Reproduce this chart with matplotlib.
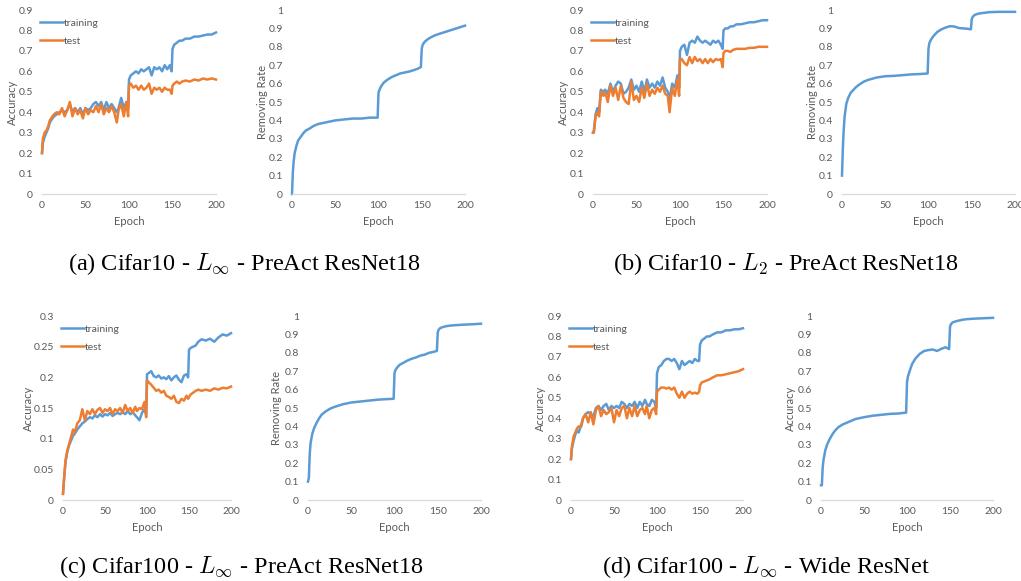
import matplotlib
matplotlib.use('Agg')
import matplotlib.pyplot as plt

plt.rcParams['font.family'] = 'Lato'
plt.rcParams['mathtext.fontset'] = 'cm'

BLUE = '#5B9BD5'
ORANGE = '#ED7D31'
GREY = '#595959'

# epochs used for the accuracy curves (shared by every accuracy panel)
acc_ep = [0, 1, 3, 5, 7, 9, 12, 14, 17, 20, 23, 26, 29, 32, 35, 38, 41, 44, 47, 50,
          53, 56, 59, 62, 65, 68, 71, 74, 77, 80, 83, 86, 88, 91, 94, 97, 99,
          100, 102, 105, 108, 111, 114, 117, 120, 123, 126, 129, 132, 135, 138, 141, 144, 147, 149,
          150, 152, 155, 158, 161, 165, 170, 175, 180, 185, 190, 195, 200]

# epochs used for the removing-rate curves
rem_ep = [0, 1, 2, 3, 5, 7, 10, 13, 16, 20, 25, 30, 40, 50, 60, 70, 80, 90, 99,
          100, 101, 103, 106, 110, 115, 120, 125, 130, 135, 140, 145, 149,
          150, 151, 153, 156, 160, 165, 170, 180, 190, 200]

# (a) Cifar10 - Linf - PreAct ResNet18
a_train = [0.20, 0.25, 0.28, 0.30, 0.32, 0.35, 0.37, 0.38, 0.39, 0.40, 0.41, 0.40, 0.41, 0.44, 0.40, 0.42, 0.40, 0.42, 0.39, 0.42,
           0.41, 0.42, 0.44, 0.45, 0.43, 0.45, 0.41, 0.45, 0.42, 0.44, 0.42, 0.40, 0.42, 0.47, 0.42, 0.45, 0.42,
           0.56, 0.58, 0.59, 0.60, 0.59, 0.61, 0.60, 0.61, 0.62, 0.58, 0.62, 0.61, 0.62, 0.60, 0.63, 0.61, 0.63, 0.60,
           0.71, 0.73, 0.74, 0.75, 0.75, 0.76, 0.76, 0.77, 0.77, 0.775, 0.78, 0.78, 0.79]
a_test = [0.20, 0.27, 0.30, 0.31, 0.33, 0.36, 0.38, 0.39, 0.40, 0.39, 0.42, 0.38, 0.41, 0.45, 0.38, 0.42, 0.39, 0.41, 0.37, 0.42,
          0.39, 0.41, 0.40, 0.43, 0.40, 0.44, 0.39, 0.42, 0.40, 0.43, 0.40, 0.35, 0.41, 0.44, 0.38, 0.45, 0.38,
          0.53, 0.54, 0.52, 0.53, 0.51, 0.53, 0.51, 0.52, 0.54, 0.49, 0.52, 0.51, 0.52, 0.50, 0.52, 0.51, 0.51, 0.49,
          0.53, 0.54, 0.55, 0.54, 0.55, 0.555, 0.55, 0.56, 0.555, 0.565, 0.56, 0.565, 0.56]
a_rem = [0.00, 0.12, 0.18, 0.22, 0.26, 0.29, 0.31, 0.33, 0.345, 0.355, 0.37, 0.38, 0.39, 0.40, 0.405, 0.41, 0.41, 0.415, 0.415,
         0.55, 0.565, 0.585, 0.605, 0.62, 0.635, 0.645, 0.655, 0.66, 0.665, 0.672, 0.68, 0.69,
         0.79, 0.81, 0.825, 0.838, 0.85, 0.862, 0.87, 0.885, 0.90, 0.915]

# (b) Cifar10 - L2 - PreAct ResNet18
b_train = [0.30, 0.31, 0.39, 0.42, 0.40, 0.51, 0.50, 0.51, 0.49, 0.54, 0.50, 0.53, 0.55, 0.54, 0.49, 0.50, 0.52, 0.56, 0.51, 0.53,
           0.50, 0.55, 0.50, 0.56, 0.52, 0.54, 0.52, 0.55, 0.53, 0.57, 0.52, 0.50, 0.46, 0.54, 0.52, 0.58, 0.52,
           0.70, 0.72, 0.73, 0.68, 0.74, 0.75, 0.74, 0.77, 0.75, 0.74, 0.75, 0.74, 0.73, 0.75, 0.74, 0.75, 0.73, 0.71,
           0.80, 0.81, 0.81, 0.82, 0.82, 0.83, 0.83, 0.835, 0.84, 0.84, 0.845, 0.85, 0.85]
b_test = [0.30, 0.30, 0.38, 0.40, 0.38, 0.50, 0.48, 0.50, 0.45, 0.53, 0.48, 0.52, 0.46, 0.53, 0.47, 0.45, 0.44, 0.55, 0.46, 0.48,
          0.45, 0.52, 0.47, 0.54, 0.48, 0.51, 0.49, 0.52, 0.50, 0.53, 0.49, 0.48, 0.40, 0.52, 0.48, 0.56, 0.48,
          0.66, 0.66, 0.64, 0.63, 0.67, 0.64, 0.67, 0.65, 0.66, 0.64, 0.66, 0.64, 0.66, 0.645, 0.66, 0.655, 0.66, 0.62,
          0.69, 0.70, 0.70, 0.695, 0.705, 0.71, 0.71, 0.71, 0.715, 0.715, 0.72, 0.72, 0.72]
b_rem = [0.10, 0.25, 0.35, 0.42, 0.49, 0.52, 0.55, 0.565, 0.58, 0.595, 0.61, 0.62, 0.633, 0.64, 0.642, 0.646, 0.65, 0.652, 0.655,
         0.79, 0.82, 0.84, 0.86, 0.88, 0.895, 0.905, 0.912, 0.91, 0.902, 0.90, 0.898, 0.895,
         0.95, 0.962, 0.972, 0.978, 0.982, 0.985, 0.988, 0.99, 0.99, 0.99]

# (c) Cifar100 - Linf - PreAct ResNet18
c_train = [0.010, 0.030, 0.062, 0.078, 0.088, 0.095, 0.105, 0.108, 0.115, 0.120, 0.125, 0.128, 0.132, 0.135, 0.133, 0.138, 0.135, 0.140, 0.136, 0.140,
           0.138, 0.142, 0.137, 0.140, 0.142, 0.140, 0.143, 0.140, 0.145, 0.140, 0.143, 0.138, 0.135, 0.130, 0.142, 0.148, 0.140,
           0.205, 0.207, 0.210, 0.202, 0.200, 0.203, 0.198, 0.200, 0.197, 0.202, 0.195, 0.200, 0.203, 0.196, 0.192, 0.203, 0.205, 0.200,
           0.245, 0.248, 0.250, 0.252, 0.258, 0.262, 0.260, 0.263, 0.258, 0.265, 0.270, 0.268, 0.272]
c_test = [0.010, 0.030, 0.065, 0.080, 0.090, 0.100, 0.115, 0.110, 0.125, 0.130, 0.148, 0.130, 0.145, 0.140, 0.148, 0.140, 0.147, 0.150, 0.142, 0.148,
          0.145, 0.150, 0.140, 0.148, 0.145, 0.150, 0.142, 0.155, 0.145, 0.150, 0.142, 0.152, 0.145, 0.150, 0.148, 0.160, 0.135,
          0.195, 0.192, 0.188, 0.183, 0.178, 0.180, 0.175, 0.178, 0.170, 0.168, 0.165, 0.170, 0.160, 0.158, 0.165, 0.162, 0.170, 0.165,
          0.168, 0.172, 0.175, 0.178, 0.180, 0.178, 0.180, 0.178, 0.182, 0.180, 0.183, 0.182, 0.185]
c_rem = [0.10, 0.12, 0.25, 0.31, 0.36, 0.39, 0.42, 0.445, 0.465, 0.48, 0.495, 0.505, 0.52, 0.53, 0.535, 0.54, 0.545, 0.548, 0.55,
         0.69, 0.705, 0.72, 0.735, 0.745, 0.758, 0.768, 0.775, 0.785, 0.79, 0.80, 0.805, 0.81,
         0.91, 0.925, 0.935, 0.94, 0.945, 0.948, 0.95, 0.953, 0.955, 0.958]

# (d) Cifar100 - Linf - Wide ResNet
d_train = [0.20, 0.25, 0.29, 0.32, 0.34, 0.33, 0.37, 0.40, 0.42, 0.43, 0.42, 0.41, 0.45, 0.46, 0.44, 0.46, 0.47, 0.44, 0.46, 0.45,
           0.46, 0.45, 0.48, 0.47, 0.45, 0.47, 0.46, 0.48, 0.45, 0.48, 0.46, 0.49, 0.47, 0.46, 0.49, 0.48, 0.45,
           0.62, 0.65, 0.66, 0.68, 0.69, 0.69, 0.68, 0.69, 0.67, 0.64, 0.68, 0.66, 0.67, 0.68, 0.67, 0.69, 0.68, 0.68,
           0.76, 0.78, 0.79, 0.80, 0.80, 0.81, 0.82, 0.82, 0.83, 0.83, 0.835, 0.835, 0.84]
d_test = [0.20, 0.26, 0.31, 0.33, 0.35, 0.36, 0.36, 0.40, 0.42, 0.38, 0.43, 0.37, 0.44, 0.46, 0.41, 0.44, 0.42, 0.43, 0.45, 0.38,
          0.44, 0.41, 0.45, 0.46, 0.40, 0.45, 0.41, 0.46, 0.41, 0.44, 0.45, 0.42, 0.46, 0.40, 0.44, 0.45, 0.42,
          0.53, 0.54, 0.55, 0.55, 0.545, 0.55, 0.54, 0.55, 0.52, 0.50, 0.53, 0.50, 0.52, 0.53, 0.52, 0.525, 0.52, 0.53,
          0.56, 0.575, 0.58, 0.585, 0.59, 0.60, 0.61, 0.61, 0.615, 0.62, 0.625, 0.63, 0.64]
d_rem = [0.08, 0.08, 0.18, 0.22, 0.27, 0.30, 0.33, 0.355, 0.375, 0.395, 0.41, 0.42, 0.44, 0.45, 0.458, 0.463, 0.468, 0.47, 0.475,
         0.64, 0.67, 0.70, 0.74, 0.77, 0.795, 0.81, 0.815, 0.818, 0.81, 0.822, 0.83, 0.82,
         0.94, 0.955, 0.965, 0.97, 0.975, 0.98, 0.983, 0.986, 0.988, 0.99]

acc_ticks_09 = [0, 0.1, 0.2, 0.3, 0.4, 0.5, 0.6, 0.7, 0.8, 0.9]
acc_ticks_03 = [0, 0.05, 0.1, 0.15, 0.2, 0.25, 0.3]
rem_ticks = [0, 0.1, 0.2, 0.3, 0.4, 0.5, 0.6, 0.7, 0.8, 0.9, 1]
epoch_ticks = [0, 50, 100, 150, 200]

captions = [r'(a) Cifar10 - $L_\infty$ - PreAct ResNet18',
            r'(b) Cifar10 - $L_2$ - PreAct ResNet18',
            r'(c) Cifar100 - $L_\infty$ - PreAct ResNet18',
            r'(d) Cifar100 - $L_\infty$ - Wide ResNet']

W, H = 1021, 581
fig = plt.figure(figsize=(W / 100, H / 100), dpi=100)


def make_ax(x0, x1, ytop, ybot):
    return fig.add_axes([x0 / W, 1 - ybot / H, (x1 - x0) / W, (ybot - ytop) / H])


def style(ax, yticks, ylabel, ylab_x):
    ax.set_xlim(0, 200)
    ax.set_ylim(yticks[0], yticks[-1])
    ax.set_xticks(epoch_ticks)
    ax.set_yticks(yticks)
    ax.set_yticklabels(['{:g}'.format(t) for t in yticks])
    for s in ['top', 'right', 'left']:
        ax.spines[s].set_visible(False)
    ax.spines['bottom'].set_color('#D9D9D9')
    ax.spines['bottom'].set_linewidth(0.9)
    ax.tick_params(length=0, labelsize=7.5, labelcolor=GREY)
    ax.tick_params(axis='y', pad=6.5)
    ax.tick_params(axis='x', pad=5)
    ax.set_xlabel('Epoch', fontsize=8, color=GREY, va='center')
    ax.xaxis.set_label_coords(0.5, -0.152)
    ax.set_ylabel(ylabel, fontsize=8, color=GREY, va='center')
    ax.yaxis.set_label_coords(ylab_x, 0.5)
    ax.patch.set_visible(False)


def acc_panel(box, train, test, yticks, ylab_x):
    ax = make_ax(*box)
    ax.plot(acc_ep, train, color=BLUE, lw=1.8, label='training', clip_on=False)
    ax.plot(acc_ep, test, color=ORANGE, lw=1.8, label='test', clip_on=False)
    style(ax, yticks, 'Accuracy', ylab_x)
    ax.legend(loc='upper left', bbox_to_anchor=(-0.01, 0.955), frameon=False, fontsize=7.5,
              handlelength=2.2, handletextpad=0.1, labelspacing=0.85, borderpad=0,
              borderaxespad=0, labelcolor=GREY)
    return ax


def rem_panel(box, rem, ylabel, ylab_x):
    ax = make_ax(*box)
    ax.plot(rem_ep, rem, color=BLUE, lw=1.8, clip_on=False)
    style(ax, rem_ticks, ylabel, ylab_x)
    return ax


acc_panel((42, 216, 10, 194), a_train, a_test, acc_ticks_09, -0.172)
rem_panel((292, 465, 10, 194), a_rem, 'Removing Rate', -0.173)
acc_panel((593, 767, 10, 194), b_train, b_test, acc_ticks_09, -0.172)
rem_panel((842, 1015, 10, 194), b_rem, 'Removing Rate', -0.173)
acc_panel((63, 231, 316, 500), c_train, c_test, acc_ticks_03, -0.208)
rem_panel((308, 481, 316, 500), c_rem, 'Removing Rate', -0.18)
acc_panel((571, 743, 316, 500), d_train, d_test, acc_ticks_09, -0.18)
rem_panel((821, 993, 316, 500), d_rem, 'Accuracy', -0.18)

cap_pos = [(244, 264), (786, 264), (241, 567), (766, 567)]
for (cx, cy), txt in zip(cap_pos, captions):
    fig.text(cx / W, 1 - cy / H, txt, ha='center', va='center', fontsize=17.5,
             family='Liberation Serif', color='black')

fig.savefig('out.png', dpi=100)
